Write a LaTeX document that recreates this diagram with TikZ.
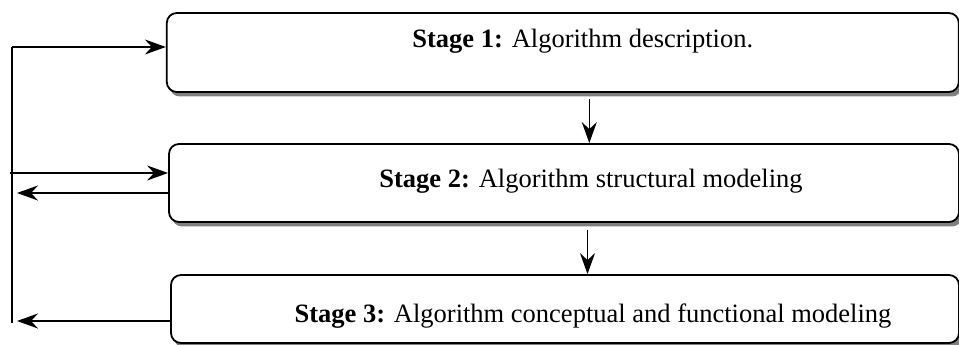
\documentclass[tikz,border=0pt]{standalone}
\usepackage{fontspec}
\setmainfont{Liberation Serif}
\usetikzlibrary{arrows.meta,shadows,calc}
\tikzset{
  stagebox/.style = {draw=black, line width=1.8pt, rounded corners=10pt,
    fill=white, inner sep=0pt,
    drop shadow={shadow xshift=3pt, shadow yshift=-4.5pt, fill=black!50,
      opacity=1}},% boite d'etape
  stagetext/.style = {anchor=base, inner sep=0pt,
    font=\fontsize{26.5pt}{30pt}\selectfont},% texte d'etape
  flow/.style = {line width=1.5pt}
}
\begin{document}
\begin{tikzpicture}[x=1pt,y=1pt,>={Stealth[length=21pt,width=15pt,inset=7pt]}]
		\useasboundingbox (0,0) rectangle (959,345);
		% les etapes
		\node [stagebox, minimum width=792pt, minimum height=79pt] (s1) at (562.8,292.5) {};
		\node [stagebox, minimum width=790pt, minimum height=78pt] (s2) at (564,162) {};
		\node [stagebox, minimum width=788pt, minimum height=68pt] (s3) at (565,36) {};
		\node [stagetext] (t1) at ([shift={(20,4.5)}]s1.center) {\textbf{Stage 1:} Algorithm description.};
		\node [stagetext] (t2) at ([shift={(27,-5)}]s2.center) {\textbf{Stage 2:} Algorithm structural modeling};
		\node [stagetext] (t3) at ([shift={(28,-14)}]s3.center) {\textbf{Stage 3:} Algorithm conceptual and functional modeling};
		% retour a gauche
		\coordinate (top) at (12,298);
		\coordinate (bot) at (12,22);
		\coordinate (in2) at (10,172);
		\coordinate (back2) at (17,152);
		\coordinate (back3) at (17,24);
		\draw [flow] (top) -- (bot);
		\draw [flow,->] (top) -- (top -| s1.west);
		\draw [flow,->] (in2) -- (in2 -| s2.west);
		\draw [flow,->] (back2 -| s2.west) -- (back2);
		\draw [flow,->] (back3 -| s3.west) -- (back3);
		% vers le bas
		\draw [flow,->] ([shift={(26.5,-6)}]s1.south) -- ([xshift=26.5]s1.south |- s2.north);
		\draw [flow,->] ([shift={(23.5,-7)}]s2.south) -- ([xshift=23.5]s2.south |- s3.north);
\end{tikzpicture}
\end{document}
